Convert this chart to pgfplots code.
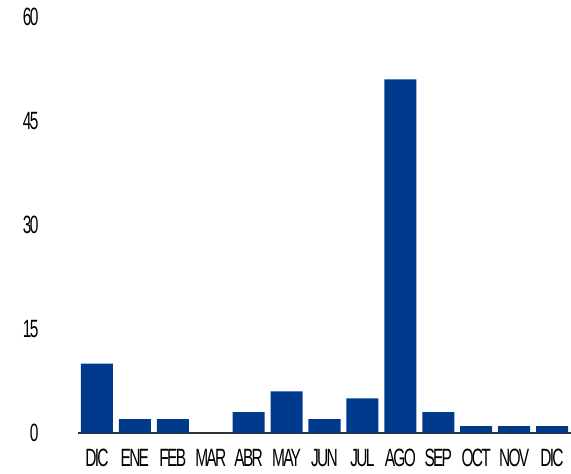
\documentclass[border=0pt]{standalone}
\usepackage{fontspec}
\setmainfont{Liberation Sans}[FakeStretch=0.62, LetterSpace=-7]
\usepackage{pgfplots}
\pgfplotsset{compat=1.18}
\definecolor{barblue}{HTML}{003A8C}

\begin{document}
\begin{tikzpicture}
\begin{axis}[
  scale only axis,
  width=493pt, height=416pt,
  xmin=-0.5, xmax=12.5,
  ymin=0, ymax=60,
  ytick={0,15,30,45,60},
  xtick=data,
  xticklabels={DIC,ENE,FEB,MAR,ABR,MAY,JUN,JUL,AGO,SEP,OCT,NOV,DIC},
  axis x line*=bottom,
  axis y line*=left,
  y axis line style={draw=none},
  x axis line style={draw=black!80, line width=1.5pt, -},
  major tick length=0pt,
  ticklabel style={font=\fontsize{25}{25}\selectfont},
  /pgf/number format/assume math mode=true,
  yticklabel style={anchor=east, xshift=-36pt},
  xticklabel style={yshift=-13pt},
  ybar, bar width=32pt,
  clip=false,
]
\addplot[draw=none, fill=barblue] coordinates {
  (0,10) (1,2) (2,2) (3,0) (4,3) (5,6) (6,2) (7,5) (8,51) (9,3) (10,1) (11,1) (12,1)
};
\end{axis}
\pgfresetboundingbox
\path (current axis.south west) ++(-78pt,-41pt) rectangle ([yshift=17pt]current axis.north east);
\end{tikzpicture}
\end{document}
